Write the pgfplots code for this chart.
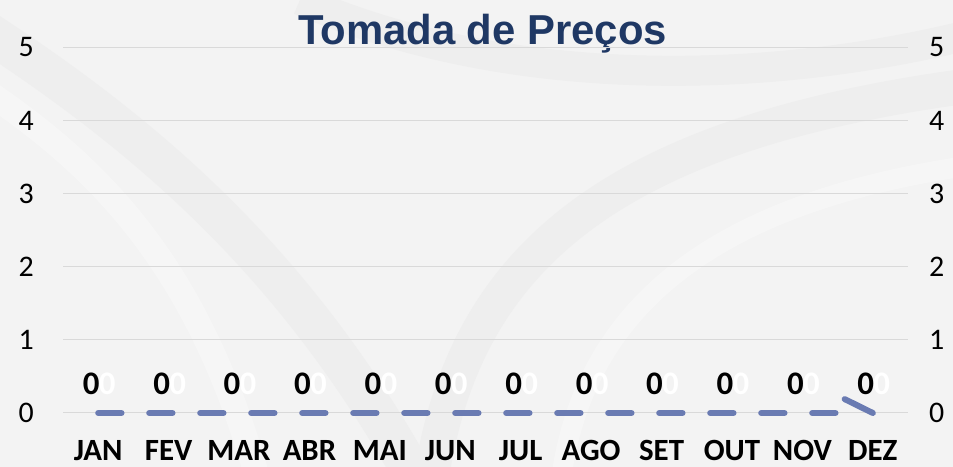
\documentclass[border=0pt]{standalone}
\usepackage{pgfplots}
\pgfplotsset{compat=1.18}
\usepackage{fontspec}
\setmainfont{Carlito}
\newfontfamily\titlefont{Liberation Sans}
\definecolor{navy}{RGB}{31,56,100}
\definecolor{linecol}{RGB}{106,123,178}
\definecolor{gridcol}{RGB}{217,217,217}
\definecolor{bgcol}{RGB}{243,243,243}
\definecolor{bandcol}{RGB}{238,238,238}
\begin{document}
\begin{tikzpicture}[x=1bp,y=1bp]
\useasboundingbox (0,0) rectangle (953,467);
\fill[bgcol] (0,0) rectangle (953,467);
% faint watermark bands
\begin{scope}
\clip (0,0) rectangle (953,467);
\draw[bandcol, line width=40bp] (-20,440) .. controls (150,330) and (300,200) .. (420,-20);
\draw[white, opacity=0.3, line width=25bp] (-20,380) .. controls (100,300) and (200,200) .. (260,-20);
\draw[bandcol, line width=35bp] (430,-20) .. controls (460,200) and (600,330) .. (960,380);
\draw[white, opacity=0.3, line width=20bp] (560,-20) .. controls (580,150) and (700,260) .. (960,300);
\draw[bandcol, line width=30bp] (300,467) .. controls (500,380) and (750,380) .. (960,430);
\end{scope}
\node[font=\titlefont\fontsize{42}{42}\selectfont\bfseries, text=navy, anchor=base, inner sep=0pt] at (482.5,422) {Tomada de Preços};
\begin{axis}[
  at={(63bp,54bp)}, anchor=south west,
  scale only axis, width=845bp, height=365.5bp,
  xmin=-0.5, xmax=11.5, ymin=0, ymax=5,
  clip=false,
  /pgf/number format/assume math mode=true,
  xtick={0,1,2,3,4,5,6,7,8,9,10,11},
  xticklabels={JAN,FEV,MAR,ABR,MAI,JUN,JUL,AGO,SET,OUT,NOV,DEZ},
  ytick={0,1,2,3,4,5},
  axis line style={draw=none},
  major tick length=0pt,
  ymajorgrids, grid style={gridcol, line width=1bp},
  xticklabel style={font=\fontsize{31}{31}\selectfont\bfseries, anchor=base, inner sep=0pt, yshift=-48bp},
  yticklabel style={font=\fontsize{30}{30}\selectfont, anchor=east, inner sep=0pt, xshift=-29bp},
]
\addplot[linecol, line width=6bp, line cap=round, dash pattern=on 23.3bp off 27.7bp]
  coordinates {(0,0) (1,0) (2,0) (3,0) (4,0) (5,0) (6,0) (7,0) (8,0) (9,0) (10,0) (10.57,0)};
\addplot[linecol, line width=6bp, line cap=round]
  coordinates {(10.6,0.19) (11,0)};
\addplot[draw=none, mark=none, point meta=explicit symbolic,
  nodes near coords, nodes near coords style={font=\fontsize{33}{33}\selectfont\bfseries, text=white, anchor=base, inner sep=0pt, xshift=9bp, yshift=18bp}]
  coordinates {(0,0)[0] (1,0)[0] (2,0)[0] (3,0)[0] (4,0)[0] (5,0)[0] (6,0)[0] (7,0)[0] (8,0)[0] (9,0)[0] (10,0)[0] (11,0)[0]};
\addplot[draw=none, mark=none, point meta=explicit symbolic,
  nodes near coords, nodes near coords style={font=\fontsize{33}{33}\selectfont\bfseries, text=black, anchor=base, inner sep=0pt, xshift=-7bp, yshift=18bp}]
  coordinates {(0,0)[0] (1,0)[0] (2,0)[0] (3,0)[0] (4,0)[0] (5,0)[0] (6,0)[0] (7,0)[0] (8,0)[0] (9,0)[0] (10,0)[0] (11,0)[0]};
\end{axis}
\begin{axis}[
  at={(63bp,54bp)}, anchor=south west,
  scale only axis, width=845bp, height=365.5bp,
  xmin=-0.5, xmax=11.5, ymin=0, ymax=5,
  /pgf/number format/assume math mode=true,
  hide x axis,
  axis line style={draw=none},
  major tick length=0pt,
  ytick={0,1,2,3,4,5},
  yticklabel pos=right,
  yticklabel style={font=\fontsize{30}{30}\selectfont, anchor=west, inner sep=0pt, xshift=21bp},
]
\end{axis}
\end{tikzpicture}
\end{document}
